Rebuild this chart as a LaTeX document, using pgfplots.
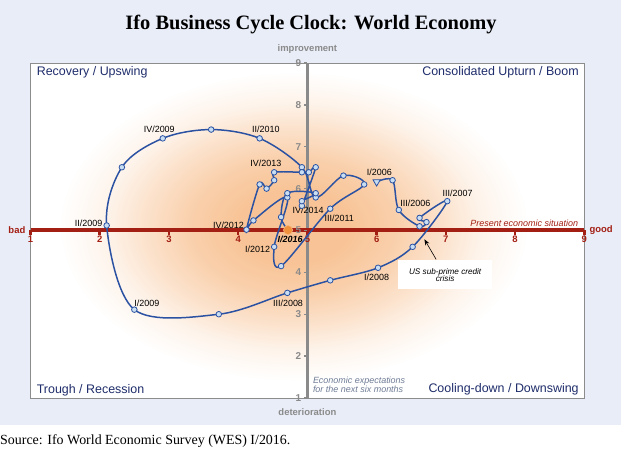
\documentclass[border=0pt]{standalone}
\usepackage{fontspec}
\setmainfont{Liberation Serif}
\newfontfamily\arial{Liberation Sans}
\usepackage{pgfplots}
\pgfplotsset{compat=1.18}
\usetikzlibrary{arrows.meta}

\definecolor{panel}{HTML}{E9EDF8}
\definecolor{framegray}{HTML}{8C8C8C}
\definecolor{vline}{HTML}{8A8A8A}
\definecolor{redline}{HTML}{A31F14}
\definecolor{navy}{HTML}{1F2D6B}
\definecolor{dataline}{HTML}{2B52A2}
\definecolor{markfill}{HTML}{C9DEF2}
\definecolor{orangept}{HTML}{F0923C}
\definecolor{orangeedge}{HTML}{F6B57C}
\definecolor{glow}{HTML}{F8C497}
\definecolor{expgray}{HTML}{6F7C96}

\pgfdeclareradialshading{glowshade}{\pgfpoint{0bp}{0bp}}{%
  color(0bp)=(glow); color(6bp)=(glow); color(11bp)=(glow!80!white);
  color(16bp)=(glow!48!white); color(20bp)=(glow!20!white);
  color(25bp)=(white); color(50bp)=(white)}

\newcommand{\lab}[1]{\arial\fontsize{#1}{#1}\selectfont}

\begin{document}
\begin{tikzpicture}[x=1bp,y=1bp]
\useasboundingbox (0,0) rectangle (624,453);
\fill[panel] (0,28) rectangle (621,453);
\node[font=\bfseries\fontsize{20.5}{22}\selectfont, anchor=base] at (311,423) {Ifo Business Cycle Clock: World Economy};
\node[font=\fontsize{14}{16}\selectfont, anchor=base west, inner sep=0pt] at (0,8) {Source: Ifo World Economic Survey (WES) I/2016.};

\begin{axis}[
  at={(30.5bp,55bp)}, anchor=south west,
  scale only axis, width=553.8bp, height=335bp,
  xmin=1, xmax=9, ymin=1, ymax=9,
  xtick=\empty, ytick=\empty,
  axis line style={draw=framegray, line width=0.8pt},
  axis background/.style={fill=white},
  clip=false,
]
% orange glow behind the clock
\begin{scope}
  \clip (rel axis cs:0,0) rectangle (rel axis cs:1,1);
  \shade[shading=glowshade] (axis cs:4.8,5.1) ellipse [x radius=235bp, y radius=155bp];
\end{scope}

% centre lines with their scales
\draw[vline, line width=3bp] (axis cs:5,1) -- (axis cs:5,9);
\draw[redline, line width=4bp] (axis cs:1,5) -- (axis cs:9,5);
\pgfplotsinvokeforeach{1,...,9}{
  \draw[redline, line width=2.5bp] (axis cs:#1,5) -- ++(0bp,-4.5bp);
  \node[anchor=north, yshift=-4.5bp, inner sep=1bp, text=redline, font=\lab{9.5}\bfseries] at (axis cs:#1,5) {#1};
  \draw[vline, line width=1.4bp] (axis cs:5,#1) -- ++(-3.5bp,0bp);
  \node[anchor=east, xshift=-5bp, inner sep=1bp, text=vline, font=\lab{10}\bfseries] at (axis cs:5,#1) {#1};
}
\node[anchor=east, xshift=-4bp, text=redline, font=\lab{9.5}\bfseries, inner sep=1bp] at (axis cs:1,5) {bad};
\node[anchor=west, xshift=4bp, text=redline, font=\lab{9.5}\bfseries, inner sep=1bp] at (axis cs:9,5) {good};
\node[yshift=14bp, text=vline, font=\lab{9.5}\bfseries] at (axis cs:5,9) {improvement};
\node[yshift=-14bp, text=vline, font=\lab{9.5}\bfseries] at (axis cs:5,1) {deterioration};

% quadrant names
\node[anchor=west, text=navy, font=\lab{12.5}] at (axis cs:1.04,8.78) {Recovery / Upswing};
\node[anchor=east, text=navy, font=\lab{12.5}] at (axis cs:8.97,8.78) {Consolidated Upturn / Boom};
\node[anchor=west, text=navy, font=\lab{12.5}] at (axis cs:1.04,1.19) {Trough / Recession};
\node[anchor=east, text=navy, font=\lab{12.5}] at (axis cs:8.97,1.20) {Cooling-down / Downswing};
\node[anchor=east, text=redline, font=\lab{9}\itshape] at (axis cs:8.96,5.18) {Present economic situation};
\node[anchor=west, align=left, text=expgray, font=\lab{9}\itshape] at (axis cs:5.03,1.32) {Economic expectations\\for the next six months};

% world economy: present situation (x) and expectations (y), I/2006 to I/2016
\addplot[smooth, tension=0.55, color=dataline, line width=1.5pt,
  mark=*, mark size=2.8pt, mark indices={2,...,40},
  mark options={fill=markfill, draw=dataline, line width=0.8pt}]
coordinates {
  (6.00,6.16) (6.23,6.20) (6.32,5.49) (6.62,5.10) (6.72,5.20) (6.62,5.30)
  (7.02,5.70) (6.52,4.61) (6.02,4.11) (5.33,3.81) (4.71,3.51) (3.72,3.00)
  (2.50,3.11) (2.10,5.12) (2.32,6.51) (2.91,7.20) (3.61,7.41) (4.31,7.20)
  (4.92,6.51) (5.12,5.79) (5.52,6.31) (5.82,6.10) (5.33,5.52) (4.62,4.15)
  (4.52,4.61) (4.71,5.79) (4.22,5.24) (4.12,5.02) (4.31,6.10) (4.41,6.00)
  (4.52,6.20) (4.52,6.39) (4.92,6.39) (5.02,6.39) (5.12,6.51) (4.92,5.59)
  (4.92,5.70) (5.12,5.89) (4.71,5.89) (4.62,5.32) (4.72,5.01)
};
\addplot[only marks, mark=triangle*, mark size=4.2pt,
  mark options={rotate=180, fill=markfill, draw=dataline, line width=0.8pt}]
coordinates {(6.00,6.16)};
\addplot[only marks, mark=*, mark size=4.6pt,
  mark options={fill=orangept, draw=orangeedge, line width=0.6pt}]
coordinates {(4.72,5.01)};

% quarter labels
\begin{scope}[every node/.style={font=\lab{9}, inner sep=0pt}]
\node at (axis cs:2.86,7.42) {IV/2009};
\node at (axis cs:4.40,7.42) {II/2010};
\node at (axis cs:4.40,6.60) {IV/2013};
\node at (axis cs:1.84,5.16) {II/2009};
\node at (axis cs:3.86,5.13) {IV/2012};
\node at (axis cs:5.01,5.49) {IV/2014};
\node[font=\lab{9}\bfseries\itshape] at (axis cs:4.75,4.80) {I/2016};
\node at (axis cs:4.28,4.56) {I/2012};
\node at (axis cs:5.46,5.29) {III/2011};
\node at (axis cs:6.04,6.40) {I/2006};
\node at (axis cs:6.56,5.66) {III/2006};
\node at (axis cs:7.17,5.89) {III/2007};
\node at (axis cs:4.72,3.27) {III/2008};
\node at (axis cs:2.68,3.27) {I/2009};
\node at (axis cs:6.00,3.89) {I/2008};
\end{scope}

% crisis note
\draw[-{Stealth[length=6bp,width=4.5bp]}, black, line width=0.6pt] (axis cs:6.86,4.31) -- (axis cs:6.69,4.79);
\node[fill=white, minimum width=94bp, minimum height=29bp, align=center, inner sep=1bp,
  font=\lab{8.2}\itshape] at (axis cs:6.99,3.94) {US sub-prime credit\\[-1pt]crisis};
\end{axis}
\end{tikzpicture}
\end{document}
